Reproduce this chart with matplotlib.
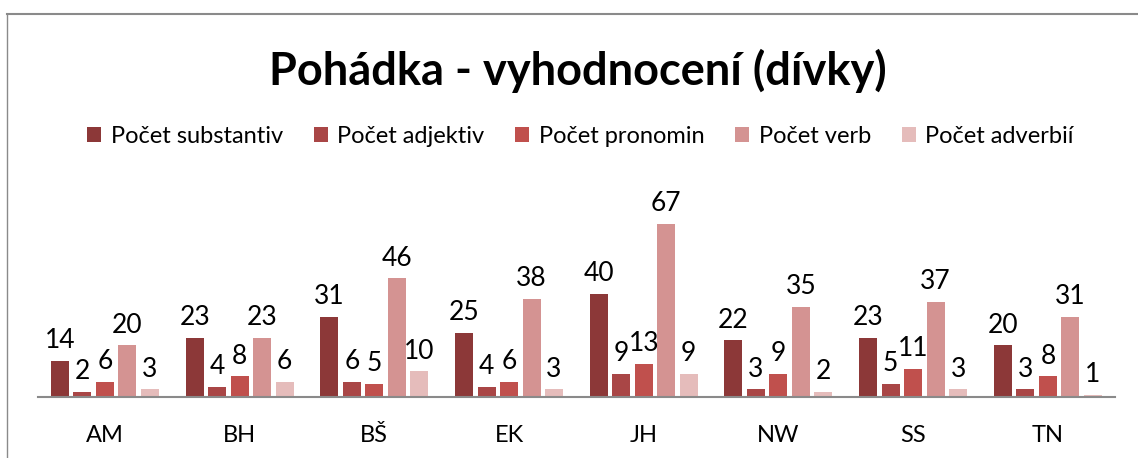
import numpy as np
import matplotlib
matplotlib.use("Agg")
import matplotlib.pyplot as plt

plt.rcParams['font.family'] = ['Lato', 'DejaVu Sans']

students = ["AM", "BH", "BŠ", "EK", "JH", "NW", "SS", "TN"]
substantiv = [14, 23, 31, 25, 40, 22, 23, 20]
adjektiv = [2, 4, 6, 4, 9, 3, 5, 3]
pronomin = [6, 8, 5, 6, 13, 9, 11, 8]
verb = [20, 23, 46, 38, 67, 35, 37, 31]
adverbii = [3, 6, 10, 3, 9, 2, 3, 1]

series = [substantiv, adjektiv, pronomin, verb, adverbii]
names = ["Počet substantiv", "Počet adjektiv", "Počet pronomin", "Počet verb", "Počet adverbií"]
colors = ["#8C3838", "#A94646", "#C0504D", "#D49392", "#E5BCBB"]

fig = plt.figure(figsize=(11.38, 4.58), dpi=100)
# chart border like the excel frame
fig.add_artist(plt.Line2D([0.006, 1.0], [0.97, 0.97], color="#8a8a8a", lw=1.5))
fig.add_artist(plt.Line2D([0.006, 0.006], [0.0, 0.97], color="#8a8a8a", lw=1.0))

ax = fig.add_axes([0.033, 0.133, 0.947, 0.45])
x = np.arange(len(students))
pitch = 0.167
w = 0.134
for i, (vals, name, c) in enumerate(zip(series, names, colors)):
    pos = x + (i - 2) * pitch
    bars = ax.bar(pos, vals, width=w, color=c, label=name)
    for b, v in zip(bars, vals):
        ax.text(b.get_x() + b.get_width() / 2, v + 3, str(v), ha="center", va="bottom",
                fontsize=19)

ax.set_xlim(-0.5, len(students) - 0.5)
ax.set_ylim(0, 67 * 206 / 173)
ax.set_xticks(x)
ax.set_xticklabels(students, fontsize=17)
ax.tick_params(axis="x", length=0, pad=20)
ax.set_yticks([])
for s in ["top", "right", "left"]:
    ax.spines[s].set_visible(False)
ax.spines["bottom"].set_color("#8a8a8a")
ax.spines["bottom"].set_linewidth(1.5)

fig.text(0.508, 0.845, "Pohádka - vyhodnocení (dívky)", ha="center", va="center",
         fontsize=32.5, fontweight="bold")
fig.legend(loc="center", bbox_to_anchor=(0.51, 0.703), ncol=5, frameon=False,
           fontsize=17, handlelength=0.6, handleheight=0.6, handletextpad=0.4,
           columnspacing=1.3)

fig.savefig("out.png", dpi=100)
